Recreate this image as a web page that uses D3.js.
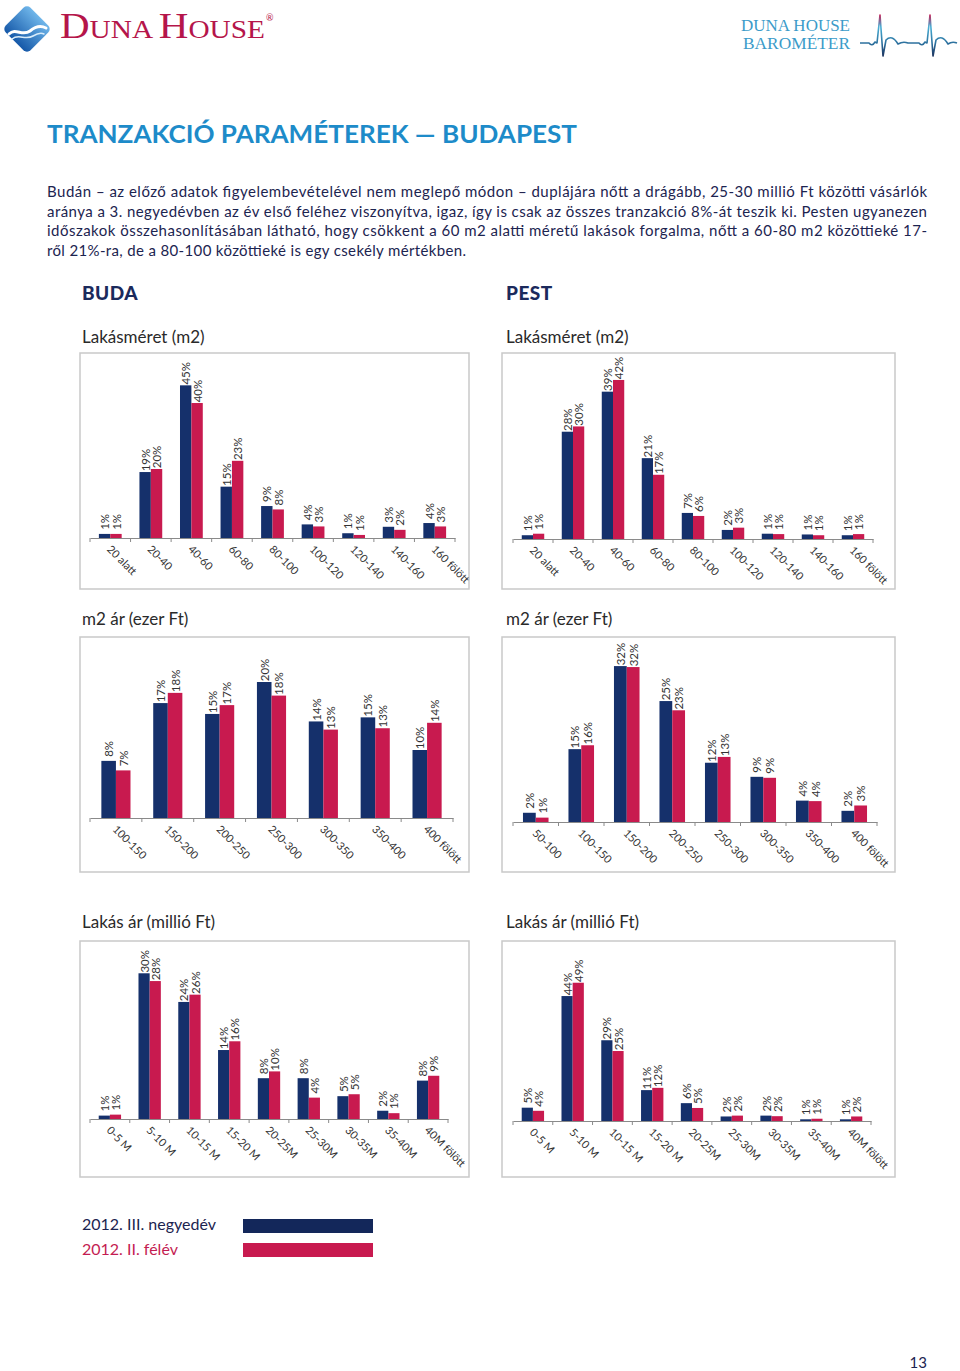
<!DOCTYPE html>
<html><head><meta charset="utf-8">
<script src="https://cdn.jsdelivr.net/npm/d3@7"></script>
<style>
body{margin:0;background:#fff}
svg{display:block}
text{font-family:Lato,"Open Sans",sans-serif}
</style>
</head><body>
<svg id="c" width="960" height="1371"></svg>
<script>
// ---------- DATA ----------
const sizeCats = ["20 alatt","20-40","40-60","60-80","80-100","100-120","120-140","140-160","160 fölött"];
const budaSizeQ3 = [1.2,19.4,44.9,15.1,9.4,4.0,1.4,3.3,4.4];
const budaSizeH2 = [1.2,20.3,39.7,22.7,8.4,3.4,0.9,2.4,3.4];
const pestSizeQ3 = [1.0,28.4,39.0,21.4,6.9,2.4,1.4,1.2,1.0];
const pestSizeH2 = [1.4,29.8,42.1,17.0,6.1,3.0,1.3,1.0,1.3];

const budaM2Cats = ["100-150","150-200","200-250","250-300","300-350","350-400","400 fölött"];
const budaM2Q3 = [8.4,16.9,15.3,20.0,14.2,14.8,10.0];
const budaM2H2 = [7.0,18.4,16.6,18.0,13.0,13.2,14.0];

const pestM2Cats = ["50-100","100-150","150-200","200-250","250-300","300-350","350-400","400 fölött"];
const pestM2Q3 = [1.9,15.0,32.1,24.9,12.2,9.3,4.4,2.3];
const pestM2H2 = [0.9,15.8,31.9,23.0,13.4,9.1,4.3,3.4];

const priceCats = ["0-5 M","5-10 M","10-15 M","15-20 M","20-25M","25-30M","30-35M","35-40M","40M fölött"];
const budaPriceQ3 = [0.7,30.0,24.1,14.2,8.4,8.4,4.7,1.7,7.9];
const budaPriceH2 = [0.9,28.4,25.6,16.0,9.8,4.4,5.1,1.2,8.9];
const pestPriceQ3 = [4.7,44.1,28.5,10.9,6.3,1.6,1.9,0.6,0.6];
const pestPriceH2 = [3.6,48.8,24.7,11.7,4.6,1.9,1.7,0.8,1.6];

const axisMaxes = [50,45,25,35,35,60];
const seriesNames = ["2012. III. negyedév","2012. II. félév"];
const chartTitles = ["Lakásméret (m2)","m2 ár (ezer Ft)","Lakás ár (millió Ft)"];
const sectionNames = ["BUDA","PEST"];

const paragraph = [
 "Budán – az előző adatok figyelembevételével nem meglepő módon – duplájára nőtt a drágább, 25-30 millió Ft közötti vásárlók",
 "aránya a 3. negyedévben az év első feléhez viszonyítva, igaz, így is csak az összes tranzakció 8%-át teszik ki. Pesten ugyanezen",
 "időszakok összehasonlításában látható, hogy csökkent a 60 m2 alatti méretű lakások forgalma, nőtt a 60-80 m2 közöttieké 17-",
 "ről 21%-ra, de a 80-100 közöttieké is egy csekély mértékben."
];

// ---------- STYLE ----------
const BLUE = "#15306b", PINK = "#c81a4f", NAVY = "#1c2450", TITLE = "#1d8bc9";

const svg = d3.select("#c");
const defs = svg.append("defs");

// ---------- HEADER ----------
const lg = defs.append("linearGradient").attr("id","logoG").attr("x1",0).attr("y1",0).attr("x2",0).attr("y2",1);
lg.append("stop").attr("offset","0%").attr("stop-color","#6fb6ea");
lg.append("stop").attr("offset","100%").attr("stop-color","#1558a8");
svg.append("rect").attr("x",-17.5).attr("y",-17.5).attr("width",35).attr("height",35).attr("rx",5)
  .attr("fill","url(#logoG)").attr("transform","translate(27,29) rotate(45)");
svg.append("path").attr("d","M9,34 C16,27 22,37 30,31 C36,26 42,26 46,28")
  .attr("fill","none").attr("stroke","#fff").attr("stroke-width",3).attr("stroke-linecap","round");
svg.append("path").attr("d","M12,39 C19,33 25,41 33,36 C38,33 42,33 44,34")
  .attr("fill","none").attr("stroke","#d8ecfa").attr("stroke-width",1.5).attr("stroke-linecap","round");

const logoT = svg.append("text").attr("x",60).attr("y",38).attr("fill","#b5154a")
  .style("font-family","'Liberation Serif','DejaVu Serif',serif").attr("textLength",205).attr("lengthAdjust","spacingAndGlyphs");
logoT.append("tspan").attr("font-size",35).text("D");
logoT.append("tspan").attr("font-size",25).text("UNA ");
logoT.append("tspan").attr("font-size",35).text("H");
logoT.append("tspan").attr("font-size",25).text("OUSE");
svg.append("text").attr("x",266).attr("y",21).attr("font-size",9).attr("fill","#b5154a").text("®");

svg.append("text").attr("x",741).attr("y",31).attr("font-size",17).attr("fill","#3b9bc9")
  .style("font-family","'Liberation Serif','DejaVu Serif',serif").attr("textLength",109).attr("lengthAdjust","spacingAndGlyphs").text("DUNA HOUSE");
svg.append("text").attr("x",743).attr("y",49).attr("font-size",17).attr("fill","#3b9bc9")
  .style("font-family","'Liberation Serif','DejaVu Serif',serif").attr("textLength",107).attr("lengthAdjust","spacingAndGlyphs").text("BAROMÉTER");

const eg = defs.append("linearGradient").attr("id","ecgG").attr("gradientUnits","userSpaceOnUse")
  .attr("x1",0).attr("y1",14).attr("x2",0).attr("y2",57);
eg.append("stop").attr("offset","0%").attr("stop-color","#c8174e");
eg.append("stop").attr("offset","30%").attr("stop-color","#49b0d6");
eg.append("stop").attr("offset","70%").attr("stop-color","#2a6c9a");
eg.append("stop").attr("offset","100%").attr("stop-color","#1c2f5a");
svg.append("path")
  .attr("d","M860,43 L869,43 Q872,47 875,42 L877,43 L880,15 L883,56 L886,40 Q892,34 898,44 Q903,41 908,43 L919,43 Q922,47 925,42 L927,43 L930,15 L933,56 L936,40 Q942,34 948,44 Q952,41 957,43")
  .attr("fill","none").attr("stroke","url(#ecgG)").attr("stroke-width",1.6).attr("stroke-linejoin","round");

// ---------- TITLE & PARAGRAPH ----------
svg.append("text").attr("x",47).attr("y",143).attr("font-size",25).attr("font-weight",700)
  .attr("fill",TITLE).attr("textLength",530).attr("lengthAdjust","spacingAndGlyphs")
  .text("TRANZAKCIÓ PARAMÉTEREK — BUDAPEST");

const lineLens = [880,880,880,419];
svg.selectAll("text.par").data(paragraph).join("text").attr("class","par")
  .attr("x",47).attr("y",(d,i)=>197+i*19.5).attr("font-size",15).attr("fill",NAVY)
  .attr("textLength",(d,i)=>lineLens[i]).attr("lengthAdjust","spacing").text(d=>d);

// section headers
svg.selectAll("text.sec").data(sectionNames).join("text").attr("class","sec")
  .attr("x",(d,i)=>i?506:82).attr("y",300).attr("font-size",19).attr("font-weight",900)
  .attr("fill","#1b2a5c").attr("letter-spacing",0.5).text(d=>d);

// chart titles
const titleY = [343,625,928];
chartTitles.forEach((t,r)=>{
  [82,506].forEach(x=>{
    svg.append("text").attr("x",x).attr("y",titleY[r]).attr("font-size",17).attr("fill","#2a2a2a").text(t);
  });
});

// ---------- CHARTS ----------
const charts = [
  {cats:sizeCats, a:budaSizeQ3, b:budaSizeH2, max:axisMaxes[0], box:[80,353,389,236], ax:[90,455,538]},
  {cats:sizeCats, a:pestSizeQ3, b:pestSizeH2, max:axisMaxes[1], box:[502,353,393,236], ax:[513,873,539]},
  {cats:budaM2Cats, a:budaM2Q3, b:budaM2H2, max:axisMaxes[2], box:[80,637,389,235], ax:[90,453,818]},
  {cats:pestM2Cats, a:pestM2Q3, b:pestM2H2, max:axisMaxes[3], box:[502,637,393,235], ax:[513,877,822]},
  {cats:priceCats, a:budaPriceQ3, b:budaPriceH2, max:axisMaxes[4], box:[80,941,389,236], ax:[90,448,1119]},
  {cats:priceCats, a:pestPriceQ3, b:pestPriceH2, max:axisMaxes[5], box:[502,941,393,236], ax:[513,871,1121]}
];

charts.forEach(cfg=>{
  const [bx,by,bwid,bh] = cfg.box;
  svg.append("rect").attr("x",bx).attr("y",by).attr("width",bwid).attr("height",bh)
    .attr("fill","none").attr("stroke","#c9c9c9").attr("stroke-width",1.5);
  const [x0,x1,ay] = cfg.ax;
  const x = d3.scaleBand().domain(cfg.cats).range([x0,x1]).padding(0);
  const sub = d3.scaleBand().domain([0,1]).range([0,x.bandwidth()]).paddingOuter(0.78).paddingInner(0);
  const y = d3.scaleLinear().domain([0,cfg.max]).range([ay, ay-170]);
  const g = svg.append("g");
  const rows = cfg.cats.map((c,i)=>({c, v:[cfg.a[i],cfg.b[i]]}));
  const grp = g.selectAll("g.cat").data(rows).join("g").attr("transform",d=>`translate(${x(d.c)},0)`);
  grp.selectAll("rect").data(d=>d.v.map((v,k)=>({v,k}))).join("rect")
    .attr("x",d=>sub(d.k)).attr("width",sub.bandwidth())
    .attr("y",d=>y(d.v)).attr("height",d=>ay-y(d.v))
    .attr("fill",d=>d.k?PINK:BLUE);
  grp.selectAll("text").data(d=>d.v.map((v,k)=>({v,k}))).join("text")
    .attr("transform",d=>`translate(${sub(d.k)+sub.bandwidth()/2+0.5},${y(d.v)-12}) rotate(-90)`)
    .attr("text-anchor","middle").attr("dy","0.35em").attr("font-size",11.5).attr("fill","#333")
    .text(d=>Math.round(d.v)+"%");

  // axis
  const axis = d3.axisBottom(x).tickSizeInner(0).tickSizeOuter(0).tickPadding(0);
  const ag = svg.append("g").attr("transform",`translate(0,${ay})`).call(axis);
  ag.select(".domain").attr("stroke","#8a8a8a");
  ag.selectAll(".tick text").attr("x",0).attr("y",0).attr("dy",0)
    .attr("transform","translate(-4,12) rotate(45)").style("text-anchor","start")
    .attr("font-size",11).attr("fill","#333").style("font-family","Lato,'Open Sans',sans-serif");
  const bounds = x.domain().map(c=>x(c)).concat([x1]);
  ag.selectAll("line.bt").data(bounds).join("line").attr("class","bt")
    .attr("x1",d=>d).attr("x2",d=>d).attr("y1",0).attr("y2",4).attr("stroke","#8a8a8a");
});

// ---------- LEGEND ----------
const leg = svg.append("g");
seriesNames.forEach((s,i)=>{
  leg.append("text").attr("x",82).attr("y",1230+i*24.5).attr("font-size",16)
    .attr("fill",i?"#c41c52":NAVY).text(s);
  leg.append("rect").attr("x",243).attr("y",1219+i*24).attr("width",130).attr("height",14)
    .attr("fill",i?PINK:"#13275a");
});

svg.append("text").attr("x",927).attr("y",1368).attr("text-anchor","end").attr("font-size",15)
  .attr("fill",NAVY).text("13");
</script>
</body></html>
